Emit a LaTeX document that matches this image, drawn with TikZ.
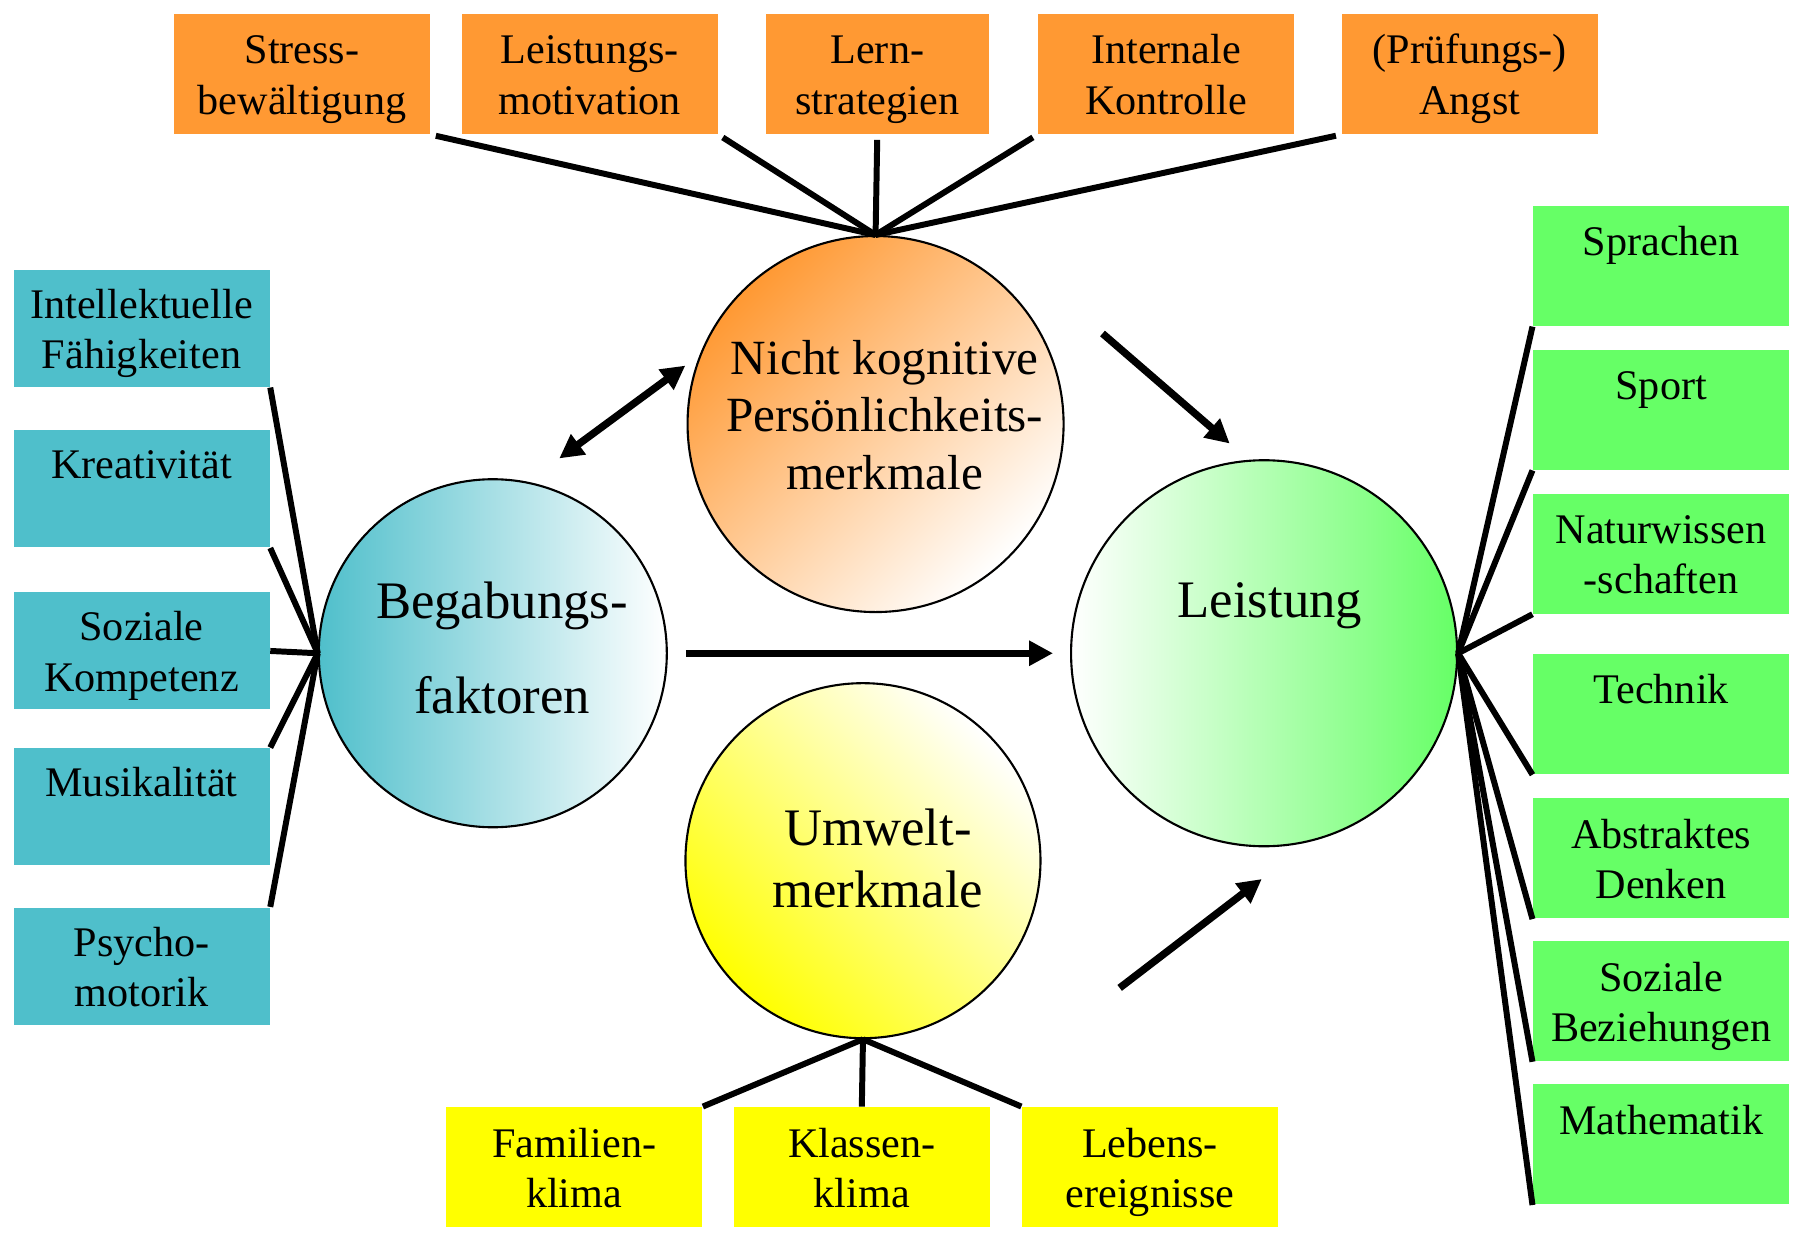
\documentclass[tikz,border=0pt]{standalone}
\usepackage{fontspec}
\setmainfont{Liberation Serif}
\usepackage{tikz}
\usetikzlibrary{arrows.meta,positioning,shapes.geometric}
\usepackage{xcolor}
\definecolor{faktorNK}{RGB}{255,153,51}
\definecolor{faktorBG}{RGB}{79,191,203}
\definecolor{faktorLS}{RGB}{102,255,102}
\definecolor{faktorUW}{RGB}{255,255,0}
\newcommand\zeilen[1]{\begin{tabular}[t]{@{}c@{}}#1\end{tabular}}

\begin{document}
\begin{tikzpicture}[x=0.1146mm, y=-0.1146mm,
  every node/.style={font=\fontsize{12}{14.3}\selectfont, align=center},
  boxN/.style={rectangle, inner sep=0pt, minimum width=25.6mm, minimum height=12mm,
    text height=10pt, text depth=15.7pt},
  nkBox/.style={boxN, fill=faktorNK},
  bgBox/.style={boxN, fill=faktorBG, minimum height=11.7mm},
  lsBox/.style={boxN, fill=faktorLS},
  uwBox/.style={boxN, fill=faktorUW},
  kreis/.style={circle, draw=black, line width=0.6pt, inner sep=0pt},
  kreistext/.style={inner sep=0pt},
  link/.style={black, line width=1.7pt},
  pfeil/.style={black, line width=2.1pt, -{Triangle[length=6.8pt,width=6.8pt]}},
  dpfeil/.style={black, line width=2.1pt, {Triangle[length=6.8pt,width=6.8pt]}-{Triangle[length=6.8pt,width=6.8pt]}},
]
\useasboundingbox (0,0) rectangle (1568,1076);

\node[kreis, minimum size=37.6mm, top color=faktorNK, bottom color=white, shading angle=45] (nicht) at (764,370) {};
\node[kreis, minimum size=34.8mm, left color=faktorBG, right color=white] (begabung) at (430,570) {};
\node[kreis, minimum size=38.6mm, left color=white, right color=faktorLS] (leistung) at (1103,570) {};
\node[kreis, minimum size=35.5mm, top color=white, bottom color=faktorUW, shading angle=-45] (umwelt) at (753,751) {};

\node[kreistext, font=\fontsize{14}{16.3}\selectfont] (nichtT) at ([shift={(8,-8)}]nicht.center) {Nicht kognitive\\Persönlichkeits-\\merkmale};
\node[kreistext, font=\fontsize{15}{27}\selectfont] (begabungT) at ([shift={(8,-5)}]begabung.center) {Begabungs-\\faktoren};
\node[kreistext, font=\fontsize{15}{27}\selectfont] (leistungT) at ([shift={(5,-5)}]leistung.center) {Leistung\\~};
\node[kreistext, font=\fontsize{15}{17.6}\selectfont] (umweltT) at ([shift={(13,-2)}]umwelt.center) {Umwelt-\\merkmale};

\node[nkBox] (stress) at (263.5,64.5) {\zeilen{Stress-\\bewältigung}};
\node[nkBox] (motiv) at (514.5,64.5) {\zeilen{Leistungs-\\motivation}};
\node[nkBox, minimum width=22.3mm] (lern) at (765.5,64.5) {\zeilen{Lern-\\strategien}};
\node[nkBox] (kontrolle) at (1017.5,64.5) {\zeilen{Internale\\Kontrolle}};
\node[nkBox] (angst) at (1282.5,64.5) {\zeilen{(Prüfungs-)\\Angst}};

\node[bgBox] (intel) at (123.5,286.5) {\zeilen{Intellektuelle\\Fähigkeiten}};
\node[bgBox] (kreativ) at (123.5,426.5) {\zeilen{Kreativität}};
\node[bgBox] (sozkomp) at (123.5,568) {\zeilen{Soziale\\Kompetenz}};
\node[bgBox] (musik) at (123.5,704) {\zeilen{Musikalität}};
\node[bgBox] (psycho) at (123.5,843) {\zeilen{Psycho-\\motorik}};

\node[lsBox] (sprachen) at (1449.5,232) {\zeilen{Sprachen}};
\node[lsBox] (sport) at (1449.5,357.5) {\zeilen{Sport}};
\node[lsBox] (natur) at (1449.5,483) {\zeilen{Naturwissen\\-schaften}};
\node[lsBox] (technik) at (1449.5,623) {\zeilen{Technik}};
\node[lsBox] (abstrakt) at (1449.5,749) {\zeilen{Abstraktes\\Denken}};
\node[lsBox] (sozbez) at (1449.5,873.5) {\zeilen{Soziale\\Beziehungen}};
\node[lsBox] (mathe) at (1449.5,998.5) {\zeilen{Mathematik}};

\node[uwBox] (familie) at (501,1018.5) {\zeilen{Familien-\\klima}};
\node[uwBox] (klasse) at (752,1018.5) {\zeilen{Klassen-\\klima}};
\node[uwBox] (leben) at (1003.5,1018.5) {\zeilen{Lebens-\\ereignisse}};

\draw[link, shorten <=1.5pt] (stress.south east) -- (nicht.north);
\draw[link, shorten <=1.5pt] (motiv.south east) -- (nicht.north);
\draw[link, shorten <=1.5pt] (lern.south) -- (nicht.north);
\draw[link, shorten <=1.5pt] (kontrolle.south west) -- (nicht.north);
\draw[link, shorten <=1.5pt] (angst.south west) -- (nicht.north);

\draw[link] (intel.south east) -- (begabung.west);
\draw[link] (kreativ.south east) -- (begabung.west);
\draw[link] (sozkomp.east) -- (begabung.west);
\draw[link] (musik.north east) -- (begabung.west);
\draw[link] (psycho.north east) -- (begabung.west);

\draw[link] (sprachen.south west) -- (leistung.east);
\draw[link] (sport.south west) -- (leistung.east);
\draw[link] (natur.south west) -- (leistung.east);
\draw[link] (technik.south west) -- (leistung.east);
\draw[link] (abstrakt.south west) -- (leistung.east);
\draw[link] (sozbez.south west) -- (leistung.east);
\draw[link] (mathe.south west) -- (leistung.east);

\draw[link] (umwelt.south) -- (familie.north east);
\draw[link] (umwelt.south) -- (klasse.north);
\draw[link] (umwelt.south) -- (leben.north west);

\coordinate (nkA) at (962,291);
\coordinate (nkB) at (1073,387);
\coordinate (uwA) at (977,862);
\coordinate (uwB) at (1101,767);
\coordinate (dpA) at (488,400);
\coordinate (dpB) at (598,319);
\draw[pfeil, shorten <=1.8mm, shorten >=1.7mm] (begabung) -- (leistung);
\draw[pfeil] (nkA) -- (nkB);
\draw[pfeil] (uwA) -- (uwB);
\draw[dpfeil] (dpA) -- (dpB);
\end{tikzpicture}
\end{document}
